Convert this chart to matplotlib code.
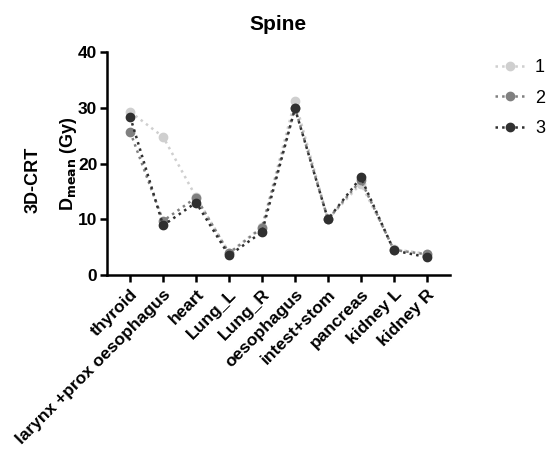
import matplotlib
matplotlib.use("Agg")
import matplotlib.pyplot as plt

plt.rcParams['font.family'] = ['Liberation Sans', 'DejaVu Sans']
plt.rcParams['font.weight'] = 'bold'

# data
organs = ['thyroid', 'larynx +prox oesophagus', 'heart', 'Lung_L', 'Lung_R',
          'oesophagus', 'intest+stom', 'pancreas', 'kidney L', 'kidney R']
s1 = [29.3, 24.8, 14.0, 4.0, 8.6, 31.3, 10.0, 16.4, 4.6, 3.8]
s2 = [25.7, 9.7, 13.9, 3.9, 8.5, 30.0, 10.0, 17.0, 4.5, 3.7]
s3 = [28.4, 8.9, 13.0, 3.5, 7.7, 29.9, 10.0, 17.5, 4.4, 3.2]
names = ['1', '2', '3']
colors = ['#cfcfcf', '#808080', '#303030']

fig = plt.figure(figsize=(5.52, 4.5), dpi=100)
ax = fig.add_axes([0.194, 0.389, 0.621, 0.495])

x = list(range(len(organs)))
for vals, name, c in zip([s1, s2, s3], names, colors):
    ax.plot(x, vals, linestyle=':', linewidth=1.8, color=c,
            marker='o', markersize=6, label=name)

ax.set_xlim(-0.7, 9.7)
ax.set_ylim(0, 40)
ax.set_yticks([0, 10, 20, 30, 40])
ax.set_xticks(x)
ax.set_xticklabels(organs, rotation=45, ha='right', rotation_mode='anchor',
                   fontsize=12.5, fontweight='bold')
ax.tick_params(axis='y', labelsize=12.5, width=1.8, length=5, pad=2)
ax.tick_params(axis='x', width=1.8, length=5)
for lab in ax.get_yticklabels():
    lab.set_fontweight('bold')

for s in ['top', 'right']:
    ax.spines[s].set_visible(False)
for s in ['left', 'bottom']:
    ax.spines[s].set_linewidth(1.8)

ax.set_title('Spine', fontsize=15, fontweight='bold', pad=16)
ax.set_ylabel(r'D$_{\mathbf{mean}}$ (Gy)', fontsize=13, fontweight='bold', labelpad=-1)
fig.text(0.06, 0.60, '3D-CRT', rotation=90, fontsize=13, fontweight='bold',
         ha='center', va='center')

leg = ax.legend(loc='upper left', bbox_to_anchor=(1.085, 1.042), frameon=False,
                prop={'size': 13, 'weight': 'normal'}, handlelength=1.6,
                labelspacing=0.75, handletextpad=0.6)

fig.savefig('out.png', dpi=100)
